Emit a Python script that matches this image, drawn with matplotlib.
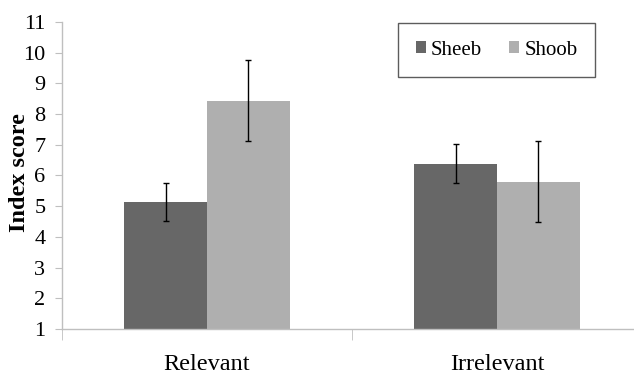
import numpy as np
import matplotlib.pyplot as plt

# Index scores per condition, with error bar half-lengths
conditions = ['Relevant', 'Irrelevant']
sheeb = [5.15, 6.39]
shoob = [8.44, 5.79]
sheeb_err = [0.62, 0.62]
shoob_err = [1.33, 1.32]

plt.rcParams['font.family'] = ['Liberation Serif', 'DejaVu Serif']

fig = plt.figure(figsize=(6.34, 3.75), dpi=100)
ax = fig.add_axes([62 / 634, 46 / 375, 580 / 634, 307 / 375])

x = np.arange(len(conditions))
width = 0.285
err_style = dict(ecolor='black', elinewidth=1.0, capsize=2.5, capthick=1.0)

ax.bar(x - width / 2, sheeb, width, color='#676767', label='Sheeb',
       yerr=sheeb_err, error_kw=err_style)
ax.bar(x + width / 2, shoob, width, color='#afafaf', label='Shoob',
       yerr=shoob_err, error_kw=err_style)

ax.set_xlim(-0.5, len(conditions) - 0.5)
ax.set_ylim(1, 11)
ax.set_yticks(range(1, 12))
ax.tick_params(axis='y', labelsize=16, length=5, color='#bfbfbf', pad=7)

# category labels centred, ticks on the category boundaries
ax.set_xticks(x)
ax.set_xticklabels(conditions, fontsize=17.5)
ax.tick_params(axis='x', length=0, pad=18)
ax.set_xticks(np.arange(-0.5, len(conditions)), minor=True)
ax.tick_params(axis='x', which='minor', length=8, color='#bfbfbf')

for side in ['top', 'right']:
    ax.spines[side].set_visible(False)
for side in ['left', 'bottom']:
    ax.spines[side].set_color('#bfbfbf')
    ax.spines[side].set_linewidth(1.0)

ax.set_ylabel('Index score', fontsize=17.5, fontweight='bold')
ax.yaxis.set_label_coords(-0.055, 0.51)

leg = ax.legend(loc='upper left', bbox_to_anchor=(336 / 580, 0.997), ncol=2,
                fontsize=15, frameon=True, fancybox=False, edgecolor='#333333',
                handlelength=0.48, handleheight=0.48, handletextpad=0.25,
                columnspacing=1.3, borderpad=0.85, borderaxespad=0.0)
leg.get_frame().set_linewidth(1.0)

fig.savefig('out.png', dpi=100)
